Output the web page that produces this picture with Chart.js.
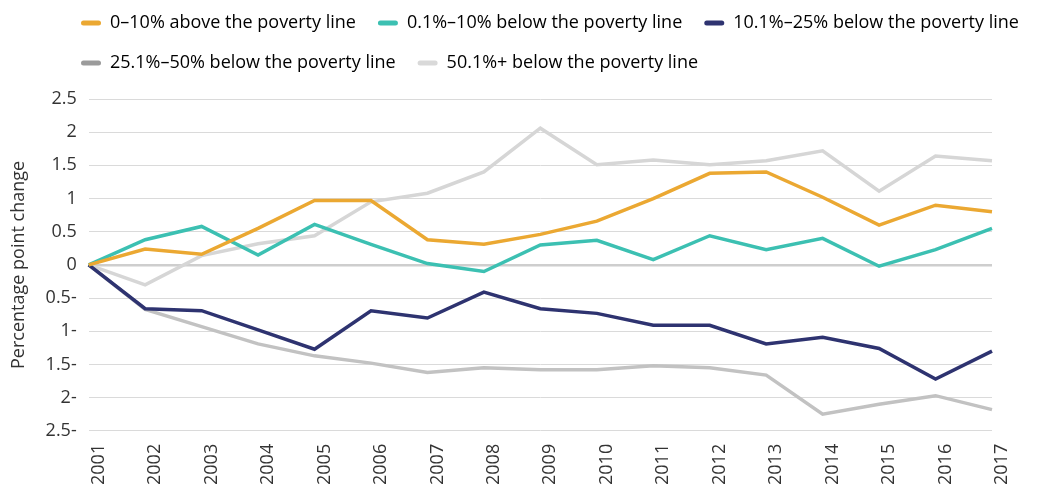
<!DOCTYPE html>
<html>
<head>
<meta charset="utf-8">
<script src="https://cdn.jsdelivr.net/npm/chart.js@4/dist/chart.umd.min.js"></script>
<style>
  html, body { margin: 0; padding: 0; background: #fff; }
  #wrap { width: 1046px; height: 488px; }
</style>
</head>
<body>
<div id="wrap"><canvas id="chart"></canvas></div>
<script>
// ---- data ----
const years = ["2001","2002","2003","2004","2005","2006","2007","2008","2009",
               "2010","2011","2012","2013","2014","2015","2016","2017"];

const seriesNames = [
  "0–10% above the poverty line",
  "0.1%–10% below the poverty line",
  "10.1%–25% below the poverty line",
  "25.1%–50% below the poverty line",
  "50.1%+ below the poverty line"
];

const above0to10   = [0, 0.24, 0.16, 0.55, 0.97, 0.97, 0.38, 0.31, 0.46, 0.66, 1.00, 1.38, 1.40, 1.02, 0.60, 0.90, 0.80];
const below0to10   = [0, 0.38, 0.58, 0.15, 0.61, 0.31, 0.02, -0.10, 0.30, 0.37, 0.08, 0.44, 0.23, 0.40, -0.02, 0.23, 0.55];
const below10to25  = [0, -0.66, -0.69, -0.98, -1.27, -0.69, -0.80, -0.41, -0.66, -0.73, -0.91, -0.91, -1.19, -1.09, -1.26, -1.72, -1.30];
const below25to50  = [0, -0.67, -0.93, -1.19, -1.37, -1.48, -1.62, -1.55, -1.58, -1.58, -1.52, -1.55, -1.66, -2.25, -2.10, -1.97, -2.18];
const below50plus  = [0, -0.30, 0.14, 0.32, 0.44, 0.95, 1.08, 1.40, 2.06, 1.51, 1.58, 1.51, 1.57, 1.72, 1.11, 1.64, 1.57];

const yTicks = [-2.5, -2, -1.5, -1, -0.5, 0, 0.5, 1, 1.5, 2, 2.5];

// ---- styles ----
const lineColors   = ["#eba832", "#3cc0b2", "#2e3370", "#c2c2c2", "#d6d6d6"];
const legendColors = ["#eba832", "#3cc0b2", "#2e3370", "#9b9b9b", "#d9d9d9"];
const fontFamily = "'Open Sans', 'Noto Sans', sans-serif";

// push the legend right and leave a gap under it
const legendTweak = {
  id: "legendTweak",
  beforeInit(chart) {
    const fit = chart.legend.fit;
    chart.legend.fit = function () {
      fit.call(this);
      this.height += 17;
    };
  },
  beforeDraw(chart) {
    const lg = chart.legend;
    const w = lg.right - lg.left;
    lg.left = 59;
    lg.right = 59 + w;
  }
};

const allSeries = [above0to10, below0to10, below10to25, below25to50, below50plus];

new Chart(document.getElementById("chart"), {
  type: "line",
  data: {
    labels: years,
    datasets: allSeries.map((d, i) => ({
      label: seriesNames[i],
      data: d,
      borderColor: lineColors[i],
      backgroundColor: lineColors[i],
      borderWidth: 3.5,
      pointRadius: 0,
      tension: 0,
      fill: false
    }))
  },
  options: {
    responsive: true,
    maintainAspectRatio: false,
    animation: false,
    layout: { padding: { top: -8, left: 4, right: 54, bottom: -10 } },
    plugins: {
      tooltip: { enabled: false },
      legend: {
        position: "top",
        align: "start",
        labels: {
          font: { family: fontFamily, size: 18 },
          color: "#333",
          boxWidth: 20,
          boxHeight: 5,
          padding: 22,
          useBorderRadius: true,
          generateLabels(chart) {
            return chart.data.datasets.map((ds, i) => ({
              text: ds.label,
              fillStyle: legendColors[i],
              strokeStyle: legendColors[i],
              lineWidth: 0,
              borderRadius: 2.5,
              hidden: false,
              datasetIndex: i
            }));
          }
        }
      }
    },
    scales: {
      x: {
        grid: { display: false, drawTicks: false },
        border: { display: false },
        ticks: {
          autoSkip: false,
          minRotation: 90,
          maxRotation: 90,
          padding: 13,
          labelOffset: 10,
          color: "#333",
          font: { family: fontFamily, size: 18 }
        }
      },
      y: {
        min: -2.5,
        max: 2.5,
        afterBuildTicks(scale) {
          scale.ticks = yTicks.map(v => ({ value: v }));
        },
        grid: {
          drawTicks: false,
          color: ctx => ctx.tick && ctx.tick.value === 0 ? "#cecece" : "#dadada",
          lineWidth: ctx => ctx.tick && ctx.tick.value === 0 ? 2.5 : 1
        },
        border: { display: false },
        ticks: {
          padding: 12,
          color: "#333",
          font: { family: fontFamily, size: 18 },
          callback: v => v < 0 ? Math.abs(v) + "-" : String(v)
        },
        title: {
          display: true,
          text: "Percentage point change",
          color: "#333",
          font: { family: fontFamily, size: 18 },
          padding: { top: 4, bottom: 4 }
        }
      }
    }
  },
  plugins: [legendTweak]
});
</script>
</body>
</html>
